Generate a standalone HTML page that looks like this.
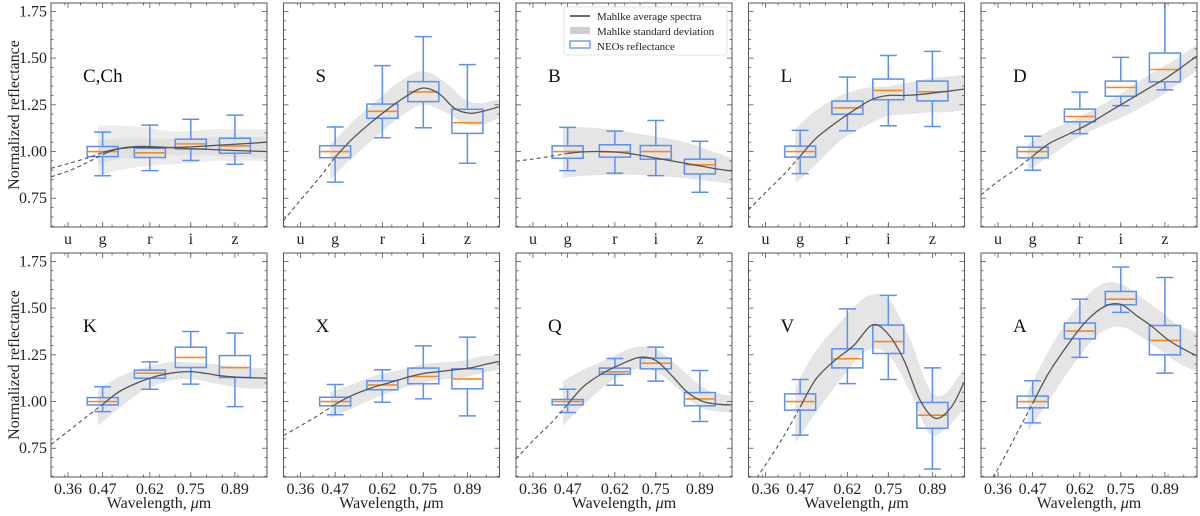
<!DOCTYPE html>
<html><head><meta charset="utf-8"><title>NEO reflectance vs Mahlke spectra</title>
<style>
html,body{margin:0;padding:0;background:#fff;}
svg{display:block;}
svg text{font-family:"Liberation Serif","DejaVu Serif",serif;}
</style></head>
<body>
<svg id="chart" width="1200" height="516" viewBox="0 0 1200 516" xmlns="http://www.w3.org/2000/svg" font-family="Liberation Serif, serif">
<text x="0" y="0" transform="translate(19,115) rotate(-90)" text-anchor="middle" font-size="16" fill="#222" font-family="Liberation Serif, serif">Normalized reflectance</text>
<text x="0" y="0" transform="translate(19,365) rotate(-90)" text-anchor="middle" font-size="16" fill="#222" font-family="Liberation Serif, serif">Normalized reflectance</text>
</svg>
<script>
const panelNames=["C,Ch","S","B","L","D","K","X","Q","V","A"];
const bandLabels=["u","g","r","i","z"];
const tickWl=[0.36,0.47,0.62,0.75,0.89];
const tickNumLabels=["0.36","0.47","0.62","0.75","0.89"];
const yTicks=[0.75,1.00,1.25,1.50,1.75];
const yTickLabels=["0.75","1.00","1.25","1.50","1.75"];
const boxWl=[0.47,0.62,0.75,0.89];
const curveWl=[0.306,0.36,0.42,0.47,0.52,0.58,0.64,0.70,0.75,0.80,0.85,0.90,0.95,0.99];
const shadeWl=[0.455,0.52,0.6,0.68,0.75,0.82,0.88,0.93,0.99];

const curveC1=[0.91,0.935,0.965,0.995,1.015,1.022,1.02,1.022,1.025,1.03,1.035,1.04,1.045,1.05];
const curveC2=[0.865,0.895,0.94,0.985,1.015,1.027,1.025,1.02,1.015,1.012,1.008,1.005,1.002,1.0];
const curveS=[0.63,0.74,0.86,0.97,1.06,1.15,1.23,1.30,1.34,1.31,1.23,1.205,1.22,1.24];
const curveB=[0.948,0.96,0.975,0.99,0.998,1.0,0.995,0.98,0.965,0.95,0.935,0.92,0.905,0.896];
const curveL=[0.6875,0.78,0.88,0.975,1.07,1.15,1.22,1.28,1.30,1.30,1.305,1.315,1.325,1.334];
const curveD=[0.768,0.84,0.91,0.975,1.04,1.09,1.14,1.2,1.25,1.30,1.35,1.40,1.46,1.51];
const curveK=[0.77,0.84,0.92,0.985,1.05,1.10,1.135,1.155,1.16,1.15,1.137,1.13,1.127,1.125];
const curveX=[0.818,0.87,0.93,0.985,1.03,1.07,1.10,1.13,1.15,1.16,1.17,1.18,1.20,1.214];
const curveQ=[0.693,0.79,0.89,0.985,1.08,1.15,1.20,1.237,1.22,1.14,1.05,1.0,0.985,0.982];
const curveV=[0.53,0.66,0.82,0.97,1.12,1.22,1.30,1.41,1.36,1.22,1.01,0.91,0.97,1.10];
const curveA=[0.5,0.64,0.83,0.99,1.15,1.30,1.43,1.51,1.52,1.46,1.40,1.33,1.28,1.245];

const shadeHiC1=[1.14,1.14,1.13,1.11,1.11,1.12,1.12,1.12,1.12];
const shadeLoC1=[0.87,0.9,0.92,0.93,0.94,0.95,0.95,0.95,0.95];
const shadeHiC2=[1.06,1.07,1.07,1.07,1.07,1.08,1.08,1.08,1.08];
const shadeLoC2=[0.93,0.96,0.97,0.98,0.98,0.98,0.97,0.97,0.96];
const shadeHiS=[1.04,1.15,1.27,1.38,1.43,1.37,1.28,1.26,1.28];
const shadeLoS=[0.85,0.96,1.08,1.19,1.25,1.21,1.15,1.14,1.18];
const shadeHiB=[1.13,1.13,1.12,1.10,1.08,1.06,1.03,1.0,0.965];
const shadeLoB=[0.86,0.87,0.875,0.875,0.87,0.86,0.85,0.84,0.827];
const shadeHiL=[1.12,1.22,1.30,1.34,1.35,1.37,1.39,1.40,1.41];
const shadeLoL=[0.83,0.93,1.06,1.14,1.19,1.20,1.21,1.21,1.22];
const shadeHiD=[1.04,1.11,1.17,1.24,1.31,1.39,1.45,1.50,1.57];
const shadeLoD=[0.90,0.97,1.06,1.13,1.18,1.24,1.30,1.36,1.43];
const shadeHiK=[1.06,1.13,1.18,1.21,1.21,1.20,1.19,1.18,1.18];
const shadeLoK=[0.87,0.96,1.06,1.11,1.12,1.10,1.08,1.07,1.07];
const shadeHiX=[1.05,1.09,1.14,1.17,1.20,1.21,1.22,1.24,1.25];
const shadeLoX=[0.91,0.96,1.02,1.07,1.10,1.12,1.13,1.15,1.17];
const shadeHiQ=[1.11,1.17,1.23,1.29,1.28,1.19,1.10,1.05,1.03];
const shadeLoQ=[0.87,0.98,1.10,1.17,1.16,1.07,0.98,0.95,0.94];
const shadeHiV=[1.08,1.27,1.43,1.56,1.55,1.33,1.07,1.04,1.18];
const shadeLoV=[0.78,0.94,1.12,1.27,1.25,1.05,0.83,0.85,0.96];
const shadeHiA=[1.05,1.27,1.48,1.62,1.63,1.55,1.48,1.41,1.37];
const shadeLoA=[0.84,1.0,1.2,1.36,1.40,1.34,1.27,1.21,1.16];

// box stats per band g,r,i,z: [whisker-low, q1, median, q3, whisker-high]
const boxC=[[0.87,0.973,1.0,1.027,1.104],[0.898,0.968,0.993,1.018,1.141],[0.952,1.014,1.041,1.066,1.173],[0.932,0.991,1.03,1.071,1.195]];
const boxS=[[0.836,0.967,1.0,1.031,1.131],[1.074,1.178,1.215,1.254,1.46],[1.127,1.267,1.319,1.374,1.615],[0.937,1.097,1.154,1.226,1.465]];
const boxB=[[0.898,0.964,1.0,1.03,1.129],[0.884,0.97,0.998,1.036,1.109],[0.871,0.959,1.0,1.032,1.166],[0.782,0.88,0.929,0.959,1.055]];
const boxL=[[0.882,0.97,1.0,1.029,1.113],[1.111,1.2,1.234,1.27,1.398],[1.138,1.277,1.327,1.388,1.514],[1.134,1.271,1.32,1.377,1.536]];
const boxD=[[0.9,0.966,1.0,1.023,1.082],[1.096,1.159,1.1875,1.227,1.318],[1.246,1.296,1.343,1.377,1.504],[1.33,1.373,1.439,1.527,1.81]];
const boxK=[[0.946,0.982,1.0,1.021,1.079],[1.066,1.125,1.152,1.168,1.212],[1.093,1.182,1.236,1.291,1.375],[0.973,1.129,1.182,1.246,1.366]];
const boxX=[[0.929,0.977,1.0,1.023,1.091],[0.996,1.063,1.089,1.111,1.17],[1.014,1.095,1.134,1.179,1.298],[0.923,1.068,1.121,1.175,1.345]];
const boxQ=[[0.941,0.982,1.0,1.011,1.066],[1.087,1.146,1.159,1.179,1.23],[1.109,1.175,1.205,1.232,1.291],[0.893,0.977,1.014,1.048,1.166]];
const boxV=[[0.82,0.954,1.0,1.041,1.118],[1.096,1.18,1.229,1.282,1.496],[1.118,1.257,1.321,1.409,1.568],[0.639,0.857,0.927,0.995,1.18]];
const boxA=[[0.886,0.966,1.0,1.029,1.111],[1.236,1.336,1.377,1.42,1.548],[1.477,1.518,1.548,1.589,1.72],[1.152,1.25,1.327,1.407,1.664]];

const panelCurves=[[curveC1,curveC2],[curveS],[curveB],[curveL],[curveD],[curveK],[curveX],[curveQ],[curveV],[curveA]];
const panelShades=[[[shadeHiC1,shadeLoC1],[shadeHiC2,shadeLoC2]],[[shadeHiS,shadeLoS]],[[shadeHiB,shadeLoB]],[[shadeHiL,shadeLoL]],[[shadeHiD,shadeLoD]],[[shadeHiK,shadeLoK]],[[shadeHiX,shadeLoX]],[[shadeHiQ,shadeLoQ]],[[shadeHiV,shadeLoV]],[[shadeHiA,shadeLoA]]];
const panelBoxes=[boxC,boxS,boxB,boxL,boxD,boxK,boxX,boxQ,boxV,boxA];

const NS="http://www.w3.org/2000/svg";
const FONT="Liberation Serif, DejaVu Serif, serif";
const svg=document.getElementById("chart");
const W0=0.306, W1=0.992, PW=216, V0=0.596, V1=1.795;
const lefts=[51,283.5,516,748.5,981];
const tops=[3,253];
function mk(tag,attrs,parent){const e=document.createElementNS(NS,tag);for(const k in attrs)e.setAttribute(k,attrs[k]);if(tag==="text")e.setAttribute("font-family",FONT);(parent||svg).appendChild(e);return e;}
function catmull(pts){let d="M"+pts[0][0].toFixed(2)+","+pts[0][1].toFixed(2);for(let i=0;i<pts.length-1;i++){const p0=pts[Math.max(0,i-1)],p1=pts[i],p2=pts[i+1],p3=pts[Math.min(pts.length-1,i+2)];const c1=[p1[0]+(p2[0]-p0[0])/6,p1[1]+(p2[1]-p0[1])/6],c2=[p2[0]-(p3[0]-p1[0])/6,p2[1]-(p3[1]-p1[1])/6];d+="C"+c1[0].toFixed(2)+","+c1[1].toFixed(2)+" "+c2[0].toFixed(2)+","+c2[1].toFixed(2)+" "+p2[0].toFixed(2)+","+p2[1].toFixed(2);}return d;}

for(let p=0;p<10;p++){
  const row=Math.floor(p/5), col=p%5;
  const L=lefts[col], T=tops[row], H=224, B=T+H;
  const xs=w=>L+(w-W0)/(W1-W0)*PW;
  const ys=v=>B-(v-V0)/(V1-V0)*H;
  const g=mk("g",{});
  
  
  const cp=mk("clipPath",{id:"clip"+p},g);
  mk("rect",{x:L,y:T,width:PW,height:H},cp);
  const plot=mk("g",{"clip-path":"url(#clip"+p+")"},g);
  panelShades[p].forEach((sh,si)=>{
    const top=shadeWl.map((w,i)=>[xs(w),ys(sh[0][i])]);
    const bot=shadeWl.map((w,i)=>[xs(w),ys(sh[1][i])]).reverse();
    const cb=catmull(bot);
    const d=catmull(top)+"L"+bot[0][0].toFixed(2)+","+bot[0][1].toFixed(2)+cb.slice(cb.indexOf("C"))+"Z";
    const s=mk("path",{d:d,fill:"#d0d0d0","fill-opacity":p===0?"0.4":"0.55",stroke:"none"},plot);
    
    
  });
  panelBoxes[p].forEach((b,bi)=>{
    const cx=xs(boxWl[bi]), bw=31, cw=17;
    const bg=mk("g",{stroke:"#5b8ff0","stroke-width":"1.5",fill:"none"},plot);
    
    
    mk("line",{x1:cx,x2:cx,y1:ys(b[0]),y2:ys(b[1])},bg);
    mk("line",{x1:cx,x2:cx,y1:ys(b[3]),y2:ys(b[4])},bg);
    mk("line",{x1:cx-cw/2,x2:cx+cw/2,y1:ys(b[0]),y2:ys(b[0])},bg);
    mk("line",{x1:cx-cw/2,x2:cx+cw/2,y1:ys(b[4]),y2:ys(b[4])},bg);
    mk("rect",{x:cx-bw/2,y:ys(b[3]),width:bw,height:ys(b[1])-ys(b[3])},bg);
    const m=mk("line",{x1:cx-bw/2+1,x2:cx+bw/2-1,y1:ys(b[2]),y2:ys(b[2]),stroke:"#f5891f","stroke-width":"1.6"},plot);
    
    
  });
  panelCurves[p].forEach(cv=>{
    const dashedPts=[],solidPts=[];
    curveWl.forEach((w,i)=>{const pt=[xs(w),ys(cv[i])];if(w<=0.47)dashedPts.push(pt);if(w>=0.47)solidPts.push(pt);});
    const dl=mk("path",{d:catmull(dashedPts),fill:"none",stroke:"#555","stroke-width":"1.1","stroke-dasharray":"4,3"},plot);
    
    
    const sl=mk("path",{d:catmull(solidPts),fill:"none",stroke:"#555","stroke-width":"1.3"},plot);
    
    
  });
  const fr=mk("rect",{x:L,y:T,width:PW,height:H,fill:"none",stroke:"#555","stroke-width":"1"},g);
  
  
  for(let v=0.6;v<=1.79;v+=0.05){
    const vv=Math.round(v*100)/100;const major=yTicks.includes(vv);const len=major?5:2.5;
    mk("line",{x1:L,x2:L+len,y1:ys(vv),y2:ys(vv),stroke:"#555","stroke-width":"0.8"},g);
    mk("line",{x1:L+PW,x2:L+PW-len,y1:ys(vv),y2:ys(vv),stroke:"#555","stroke-width":"0.8"},g);
  }
  if(col===0){yTicks.forEach((v,i)=>{const t=mk("text",{x:L-4,y:ys(v)+5,"text-anchor":"end","font-size":"16",fill:"#222"},g);t.textContent=yTickLabels[i];
    
    });}
  for(let w=0.35;w<=0.99;w+=0.05){const xx=xs(w);mk("line",{x1:xx,x2:xx,y1:B,y2:B-2.5,stroke:"#555","stroke-width":"0.8"},g);mk("line",{x1:xx,x2:xx,y1:T,y2:T+2.5,stroke:"#555","stroke-width":"0.8"},g);}
  tickWl.forEach((w,i)=>{const xx=xs(w);
    mk("line",{x1:xx,x2:xx,y1:B,y2:B-5,stroke:"#555","stroke-width":"0.8"},g);
    mk("line",{x1:xx,x2:xx,y1:T,y2:T+5,stroke:"#555","stroke-width":"0.8"},g);
    const t=mk("text",{x:xx,y:B+17,"text-anchor":"middle","font-size":"16",fill:"#222"},g);
    t.textContent=row===0?bandLabels[i]:tickNumLabels[i];
    
    
  });
  if(row===1){const t=mk("text",{x:L+PW/2,y:508,"text-anchor":"middle","font-size":"16",fill:"#222"},g);t.innerHTML='Wavelength, <tspan font-style="italic">μ</tspan>m';
    
    }
  const lab=mk("text",{x:L+32,y:T+79,"font-size":"19",fill:"#111"},g);
  lab.textContent=panelNames[p];
  
  
}
const lg=mk("g",{});


mk("rect",{x:564,y:7,width:163,height:48,fill:"#fff","fill-opacity":"0.85",stroke:"#ddd","stroke-width":"0.8",rx:"2"},lg);
mk("line",{x1:570,x2:590,y1:16,y2:16,stroke:"#333","stroke-width":"1.5"},lg);
mk("rect",{x:570,y:27,width:20,height:7,fill:"#cfcfcf"},lg);
mk("rect",{x:570,y:41,width:20,height:7,fill:"none",stroke:"#5b8ff0","stroke-width":"1.3"},lg);
const legendLabels=["Mahlke average spectra","Mahlke standard deviation","NEOs reflectance"];
legendLabels.forEach((s,i)=>{const t=mk("text",{x:597,y:20+i*15,"font-size":"11",fill:"#222"},lg);t.textContent=s;
  
  });
</script>
</body></html>
